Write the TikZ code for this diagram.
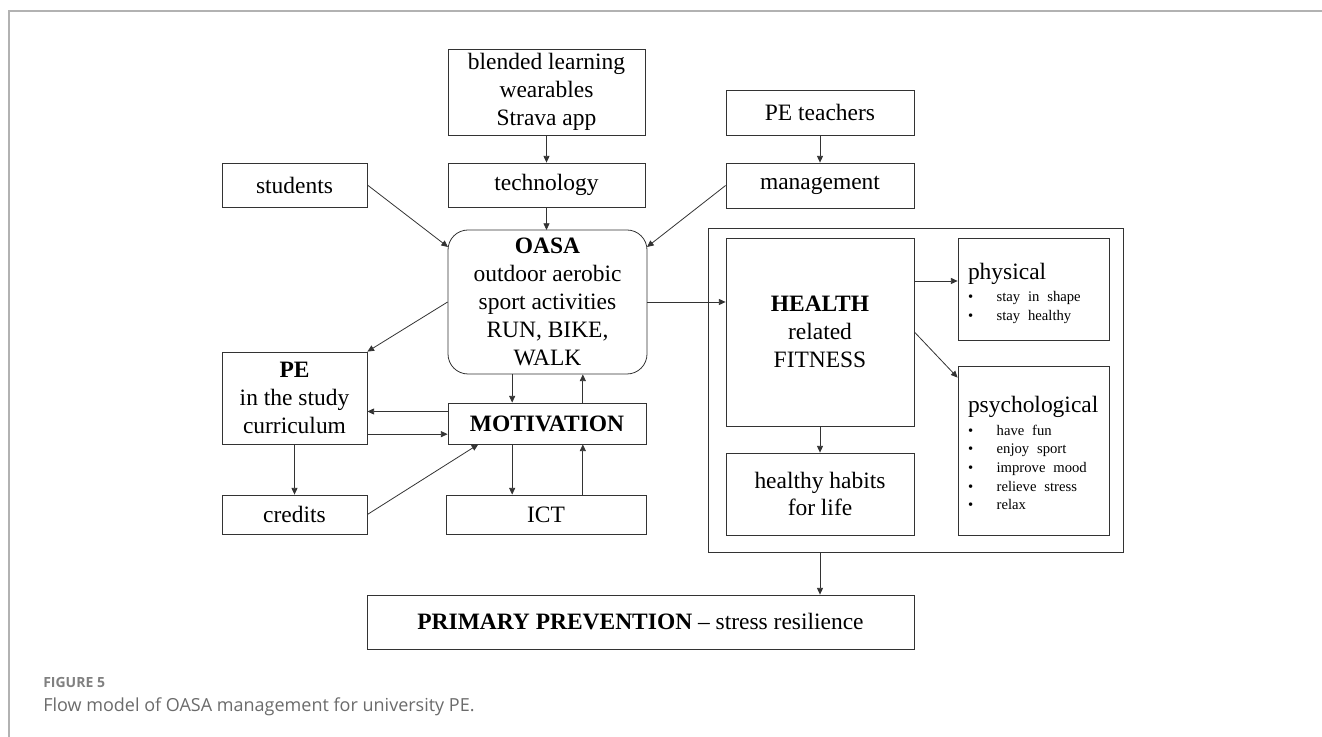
\documentclass[tikz,border=0pt]{standalone}
\usepackage{fontspec}
\setmainfont{Liberation Serif}
\newfontfamily\capfont{Open Sans}
\usepackage{tikz}
\usetikzlibrary{arrows.meta, positioning, calc}

\newcommand{\bul}[1]{\makebox[21.5pt][l]{\textbullet}#1}

\begin{document}
\begin{tikzpicture}[
    x=0.75pt, y=-0.75pt,
    box/.style={rectangle, draw=black!80, line width=0.6pt, inner sep=0pt, align=center, font=\fontsize{17.6}{20.9}\selectfont},
    listbox/.style={box, minimum width=113.25pt, text width=98.25pt, align=left},
    arrow/.style={-{Triangle[length=5pt, width=4.5pt]}, line width=0.6pt, black!80},
    caption/.style={anchor=west, inner sep=0pt, text=black!58}
]
    \useasboundingbox (0,0) rectangle (1322,737);
    \draw[black!30, line width=0.8pt] (1322,11) -- (9,11) -- (9,737);

    % Inputs
    \node[box, minimum width=147.75pt, minimum height=64.5pt] (tools) at (546.5,92) {blended learning\\wearables\\Strava app};
    \node[box, minimum width=147.75pt, minimum height=33pt] (tech) at (546.5,185) {technology};
    \node[box, minimum width=141pt, minimum height=33.75pt] (teachers) at (820,112.5) {PE teachers};
    \node[box, minimum width=141pt, minimum height=33.75pt] (mgmt) at (820,185.5) {management};
    \node[box, minimum width=108.75pt, minimum height=33pt] (students) at (294.5,185) {students};

    \draw[arrow] (tools) -- (tech);
    \draw[arrow] (teachers) -- (mgmt);
    \draw[arrow] (tech.south) -- (tech.south |- 0,230);
    \draw[arrow] (students.east) -- (448,247);
    \draw[arrow] (mgmt.west) -- (647,247);

    % Core
    \node[box, rounded corners=15pt, minimum width=149.25pt, minimum height=108pt] (oasa) at (547.5,302) {\textbf{OASA}\\outdoor aerobic\\sport activities\\RUN, BIKE,\\WALK};
    \node[box, minimum width=148.5pt, minimum height=30.75pt] (mot) at (547,423.5) {\textbf{MOTIVATION}};
    \node[box, minimum width=150pt, minimum height=29.25pt] (ict) at (546,514.5) {ICT};
    \node[box, minimum width=108.75pt, minimum height=69pt] (pe) at (294.5,398) {\textbf{PE}\\in the study\\curriculum};
    \node[box, minimum width=108.75pt, minimum height=29.25pt] (credits) at (294.5,514.5) {credits};

    \draw[arrow] (oasa.west) -- (pe.north east);
    \draw[arrow] ([xshift=-26.5pt]oasa.south) -- ([xshift=-26.5pt]oasa.south |- mot.north);
    \draw[arrow] ([xshift=26.5pt]oasa.south |- mot.north) -- ([xshift=26.5pt]oasa.south);
    \draw[arrow] ([xshift=-26.5pt]oasa.south |- mot.south) -- ([xshift=-26.5pt]oasa.south |- ict.north);
    \draw[arrow] ([xshift=26.5pt]oasa.south |- ict.north) -- ([xshift=26.5pt]oasa.south |- mot.south);
    \draw[arrow] ([yshift=9pt]mot.west) -- ([yshift=9pt]mot.west -| pe.east);
    \draw[arrow] ([yshift=-8pt]mot.west -| pe.east) -- ([yshift=-8pt]mot.west);
    \draw[arrow] (pe) -- (credits);
    \draw[arrow] (credits.east) -- ([xshift=23pt]mot.south west);

    % Health
    \node[box, minimum width=311.25pt, minimum height=243pt] (zone) at (915.5,390) {};
    \node[box, minimum width=141pt, minimum height=141pt] (health) at (820,332) {\textbf{HEALTH}\\related\\FITNESS};
    \node[box, minimum width=141pt, minimum height=61.5pt] (habits) at (820,494) {healthy habits\\for life};
    \node[listbox, minimum height=76.5pt] (physical) at (1033.5,289) {\fontsize{11}{14}\selectfont
        \raisebox{-4pt}[\height][\depth]{\begin{tabular}{@{}l@{}}{\fontsize{17.6}{20}\selectfont physical}\\[3pt]
        \bul{stay in shape}\\ \bul{stay healthy}\end{tabular}}};
    \node[listbox, minimum height=126.75pt] (psych) at (1033.5,450.5) {\fontsize{11}{14}\selectfont
        \raisebox{-4pt}[\height][\depth]{\begin{tabular}{@{}l@{}}{\fontsize{17.6}{20}\selectfont psychological}\\[3pt]
        \bul{have fun}\\ \bul{enjoy sport}\\ \bul{improve mood}\\ \bul{relieve stress}\\ \bul{relax}\end{tabular}}};

    \draw[arrow] (oasa.east) -- (oasa.east -| health.west);
    \draw[arrow] ([yshift=6pt]physical.west -| health.east) -- ([yshift=6pt]physical.west);
    \draw[arrow] (health.east) -- ([yshift=-9pt]psych.north west);
    \draw[arrow] (health) -- (habits);

    \node[box, minimum width=410.25pt, minimum height=40.5pt] (prim) at (640.5,622) {\textbf{PRIMARY PREVENTION} -- stress resilience};
    \draw[arrow] (health |- zone.south) -- (health |- prim.north);

    % Caption
    \node[caption, font=\capfont\bfseries\fontsize{10.5}{12}\selectfont, text=black!50] (figno) at (43,683) {FIGURE 5};
    \node[caption, font=\capfont\fontsize{13.5}{16}\selectfont] (captext) at (43,707) {Flow model of OASA management for university PE.};
\end{tikzpicture}
\end{document}
